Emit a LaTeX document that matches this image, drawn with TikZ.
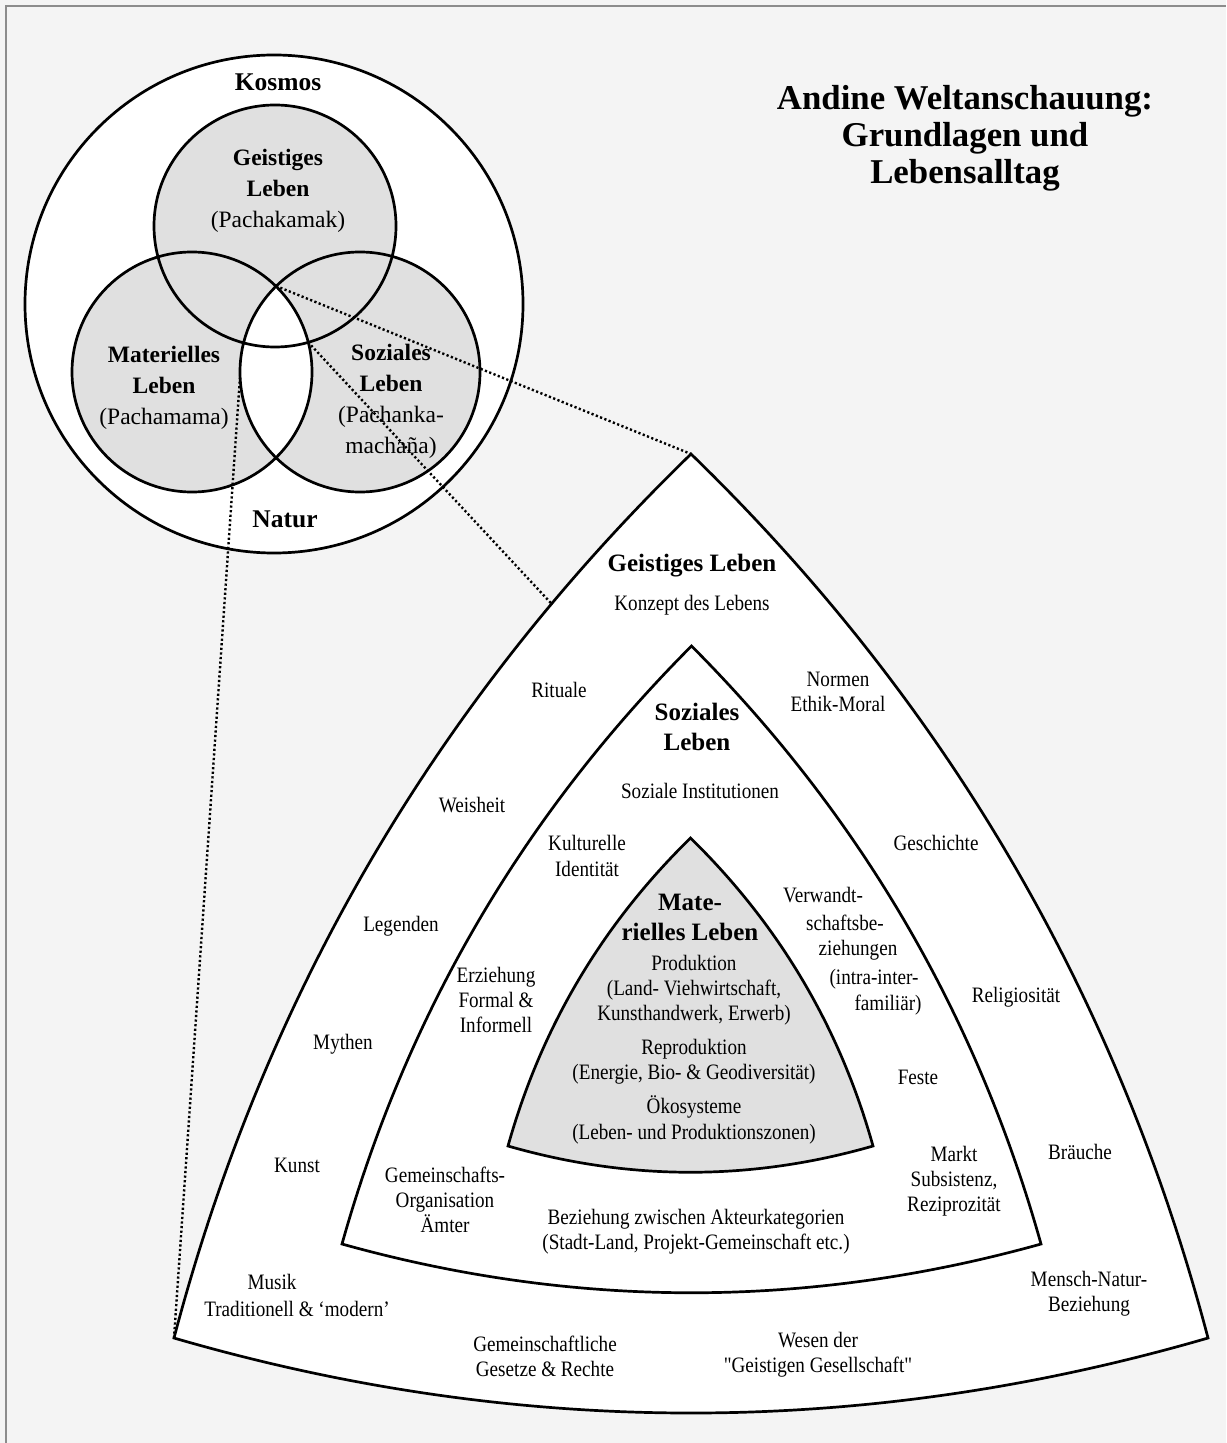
\documentclass[tikz,border=0pt]{standalone}
\usepackage{fontspec}
\setmainfont{Liberation Serif}
\newfontfamily\narrowfont{Liberation Serif}[FakeStretch=0.87]
\usepackage{tikz}
\usetikzlibrary{calc}
\definecolor{Paper}{HTML}{F4F4F4}
\definecolor{Shade}{HTML}{E0E0E0}
\definecolor{Frame}{HTML}{8C8C8C}
\newcommand{\vb}[1]{{\bfseries #1}}

\begin{document}
\begin{tikzpicture}[x=0.5pt,y=-0.5pt,
  ringline/.style={line width=1.35pt},
  linkline/.style={line width=1.2pt,dash pattern=on 1.1pt off 1.2pt},
  venntext/.style={align=center,font=\fontsize{11.75}{15.5}\selectfont},
  vennbold/.style={font=\bfseries\fontsize{12.75}{15}\selectfont},
  bandhead/.style={align=center,font=\bfseries\fontsize{12.5}{15}\selectfont},
  banditem/.style={align=center,font=\narrowfont\fontsize{11}{12.6}\selectfont},
  headline/.style={align=center,font=\bfseries\fontsize{17.4}{18.4}\selectfont}]
  \useasboundingbox (0,0) rectangle (1226,1443);
  \fill[Paper] (0,0) rectangle (1226,1443);
  \draw[Frame,line width=0.8pt] (6,1443) -- (6,6) -- (1226,6);

  \node[headline] (titel) at (965,138) {Andine Weltanschauung:\\Grundlagen und\\Lebensalltag};

  \coordinate (cgeist) at (275,226);
  \coordinate (cmater) at (192,372);
  \coordinate (csozial) at (360,372);
  \coordinate (lenstop) at (276,286);
  \coordinate (lensside) at (308,342);
  \coordinate (lensleft) at (240,377);

  \draw[ringline,fill=white] (274,304) circle[radius=249];
  \fill[Shade] (cgeist) circle[radius=121] (cmater) circle[radius=120] (csozial) circle[radius=120];
  \begin{scope}
    \clip (cmater) circle[radius=120];
    \fill[white] (csozial) circle[radius=120];
  \end{scope}
  \draw[ringline] (cgeist) circle[radius=121] (cmater) circle[radius=120] (csozial) circle[radius=120];

  \node[vennbold] (kosmos) at (278,82) {Kosmos};
  \node[vennbold] (natur) at (285,519) {Natur};
  \node[venntext] (geistig) at (278,191) {\vb{Geistiges}\\\vb{Leben}\\(Pachakamak)};
  \node[venntext] (materiell) at (164,388) {\vb{Materielles}\\\vb{Leben}\\(Pachamama)};
  \node[venntext] (sozial) at (391,401) {\vb{Soziales}\\\vb{Leben}\\(Pachanka-\\machaña)};

  \coordinate (otop) at (691,454);
  \coordinate (oleft) at (174,1338);
  \coordinate (oright) at (1208,1338);
  \coordinate (mtop) at (691.5,646);
  \coordinate (mleft) at (342,1244);
  \coordinate (mright) at (1041,1244);
  \coordinate (itop) at (690.5,838);
  \coordinate (ileft) at (508,1146);
  \coordinate (iright) at (873,1146);

  \draw[ringline,fill=white] (otop) .. controls (436.7,700.7) and (264.3,995.3) .. (oleft) coordinate[pos=0.195] (oside)
    .. controls (518,1438) and (864,1438) .. (oright)
    .. controls (1117.7,995.3) and (945.3,700.7) .. cycle;
  \draw[ringline,fill=white] (mtop) .. controls (523,815) and (406.4,1014.4) .. (mleft)
    .. controls (575,1309) and (808,1309) .. (mright)
    .. controls (976.6,1014.4) and (860,815) .. cycle;
  \draw[ringline,fill=Shade] (itop) .. controls (602.2,924.4) and (541.3,1027) .. (ileft)
    .. controls (629.7,1181) and (751.3,1181) .. (iright)
    .. controls (839.7,1027) and (778.8,924.4) .. cycle;

  \draw[linkline] (lenstop) -- (otop);
  \draw[linkline] (lensside) -- (oside);
  \draw[linkline] (lensleft) -- (oleft);

  \node[bandhead] (geisthead) at (692,566) {Geistiges Leben};
  \node[banditem] (konzept) at (692,605) {Konzept des Lebens};
  \node[banditem] (rituale) at (559,690) {Rituale};
  \node[banditem] (normen) at (838,692) {Normen\\Ethik-Moral};
  \node[banditem] (weisheit) at (472,805) {Weisheit};
  \node[banditem] (geschichte) at (936,843) {Geschichte};
  \node[banditem] (legenden) at (401,926) {Legenden};
  \node[banditem] (religion) at (1016,997) {Religiosität};
  \node[banditem] (mythen) at (343,1044) {Mythen};
  \node[banditem] (kunst) at (297,1165) {Kunst};
  \node[banditem] (braeuche) at (1080,1152) {Bräuche};
  \node[banditem] (musik) at (272,1282) {Musik};
  \node[banditem] (musikart) at (297,1309) {Traditionell \& ‘modern’};
  \node[banditem] (mensch) at (1089,1294) {Mensch-Natur-\\Beziehung};
  \node[banditem] (gesetze) at (545,1356) {Gemeinschaftliche\\Gesetze \& Rechte};
  \node[banditem] (wesen) at (818,1355) {Wesen der\\"Geistigen Gesellschaft"};

  \node[bandhead] (sozhead) at (697,727) {Soziales\\Leben};
  \node[banditem] (institution) at (700,791) {Soziale Institutionen};
  \node[banditem] (identitaet) at (587,856) {Kulturelle\\Identität};
  \node[banditem] (verw1) at (823,895) {Verwandt-};
  \node[banditem] (verw2) at (845,923) {schaftsbe-};
  \node[banditem] (verw3) at (858,950) {ziehungen};
  \node[banditem] (verw4) at (874,979) {(intra-inter-};
  \node[banditem] (verw5) at (888,1005) {familiär)};
  \node[banditem] (erziehung) at (496,1000) {Erziehung\\Formal \&\\Informell};
  \node[banditem] (feste) at (918,1077) {Feste};
  \node[banditem] (gemeinschaft) at (445,1200) {Gemeinschafts-\\Organisation\\Ämter};
  \node[banditem] (markt) at (954,1181) {Markt\\Subsistenz,\\Reziprozität};
  \node[banditem] (akteure) at (696,1232) {Beziehung zwischen Akteurkategorien\\(Stadt-Land, Projekt-Gemeinschaft etc.)};

  \node[bandhead] (materhead) at (690,917) {Mate-\\rielles Leben};
  \node[banditem] (produktion) at (694,990) {Produktion\\(Land- Viehwirtschaft,\\Kunsthandwerk, Erwerb)};
  \node[banditem] (reproduktion) at (694,1062) {Reproduktion\\(Energie, Bio- \& Geodiversität)};
  \node[banditem] (oeko) at (694,1120) {Ökosysteme\\(Leben- und Produktionszonen)};
\end{tikzpicture}
\end{document}
